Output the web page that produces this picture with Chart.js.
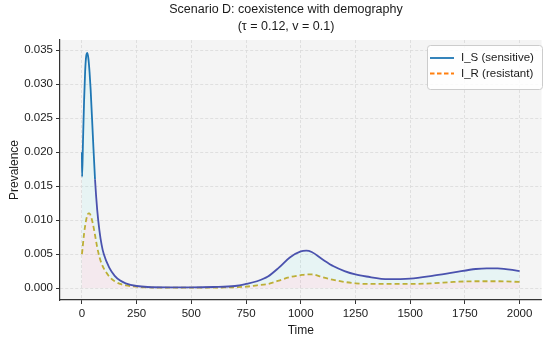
<!DOCTYPE html>
<html><head><meta charset="utf-8">
<script src="https://cdn.jsdelivr.net/npm/chart.js@4"></script>
<style>html,body{margin:0;padding:0;background:#fff}canvas{display:block}</style>
</head><body>
<canvas id="c" width="550" height="346"></canvas>
<script>
const time = [0,1,5,10,15,20,25,30,35,40,50,60,70,80,90,100,125,150,175,200,250,300,400,500,600,700,750,800,850,900,950,1000,1025,1050,1100,1150,1200,1250,1300,1400,1500,1600,1700,1800,1850,1900,2000];
const iS = [0.0200,0.0164,0.0215,0.0275,0.0320,0.0342,0.0346,0.0337,0.0318,0.0292,0.0225,0.0160,0.0115,0.0085,0.0064,0.0050,0.0030,0.0018,0.0011,0.0007,0.0003,0.00015,0.0001,0.0001,0.00015,0.0003,0.0006,0.0010,0.0017,0.0030,0.0045,0.0054,0.0055,0.0053,0.0042,0.0032,0.0025,0.0020,0.0017,0.0013,0.0014,0.0018,0.0023,0.0028,0.0029,0.0029,0.0025];
const iR = [0.0050,0.0052,0.0065,0.0080,0.0092,0.0101,0.0107,0.0110,0.0110,0.0107,0.0095,0.0078,0.0060,0.0046,0.0036,0.0029,0.0017,0.0010,0.0006,0.0004,0.0002,0.0001,0.00005,0.00005,0.00007,0.00012,0.0002,0.0004,0.0006,0.0011,0.0016,0.0019,0.0020,0.0020,0.0016,0.0012,0.0009,0.0007,0.0006,0.0006,0.0006,0.0007,0.0009,0.0010,0.0010,0.0010,0.0009];
const xTicks = [0,250,500,750,1000,1250,1500,1750,2000];
const yTicks = [0,0.005,0.010,0.015,0.020,0.025,0.030,0.035];
const seriesLabels = ['I_S (sensitive)','I_R (resistant)'];
const titleLines = ['Scenario D: coexistence with demography','(\u03c4 = 0.12, v = 0.1)'];

const FONT = '"Liberation Sans", Arial, sans-serif';

const bgPlugin = {
  id: 'bg',
  beforeDraw(chart) {
    const {ctx, chartArea: a} = chart;
    ctx.save();
    ctx.fillStyle = '#f4f4f4';
    ctx.fillRect(a.left, a.top, a.right - a.left, a.bottom - a.top);
    ctx.restore();
  },
  afterDraw(chart) {
    const ctx = chart.ctx;
    ctx.save();
    ctx.fillStyle = '#1a1a1a';
    ctx.font = '12.5px ' + FONT;
    ctx.textAlign = 'center';
    ctx.textBaseline = 'middle';
    ctx.fillText(titleLines[0], 286, 10);
    ctx.fillText(titleLines[1], 286, 27);
    const lx = 427, ly = 45, lw = 115, lh = 44;
    ctx.fillStyle = 'rgba(255,255,255,0.85)';
    ctx.strokeStyle = '#cccccc';
    ctx.lineWidth = 1;
    ctx.beginPath();
    ctx.roundRect(lx + 0.5, ly + 0.5, lw, lh, 3);
    ctx.fill(); ctx.stroke();
    const rows = [{y: 58, color: '#1f77b4', dash: []}, {y: 73.5, color: '#ff7f0e', dash: [4.5, 2.5]}];
    rows.forEach((r, i) => {
      ctx.strokeStyle = r.color;
      ctx.lineWidth = 1.8;
      ctx.setLineDash(r.dash);
      ctx.beginPath(); ctx.moveTo(430, r.y); ctx.lineTo(454, r.y); ctx.stroke();
      ctx.setLineDash([]);
      ctx.fillStyle = '#1a1a1a';
      ctx.font = '11.5px ' + FONT;
      ctx.textAlign = 'left';
      ctx.fillText(seriesLabels[i], 461, r.y);
    });
    ctx.restore();
  }
};

const ptsS = time.map((t, i) => ({x: t, y: iS[i]}));
const ptsR = time.map((t, i) => ({x: t, y: iR[i]}));

new Chart(document.getElementById('c'), {
  type: 'line',
  data: {
    datasets: [
      {label: seriesLabels[0], data: ptsS, borderColor: '#1f77b4', borderWidth: 1.8,
       segment: {borderColor: c => c.p0.parsed.x >= 55 ? '#4a52ae' : '#1f77b4'},
       pointRadius: 0, cubicInterpolationMode: 'monotone', fill: '+1', backgroundColor: 'rgba(0,255,255,0.05)'},
      {label: seriesLabels[1], data: ptsR, borderColor: '#c2ad32', borderWidth: 1.8, borderDash: [5, 3],
       pointRadius: 0, cubicInterpolationMode: 'monotone', fill: 'origin', backgroundColor: 'rgba(255,0,110,0.045)'}
    ]
  },
  options: {
    responsive: false, animation: false, devicePixelRatio: 1,
    layout: {padding: {top: 40, right: 8.5, left: 0, bottom: 0}},
    plugins: {legend: {display: false}, title: {display: false}, tooltip: {enabled: false}, filler: {propagate: false}},
    scales: {
      x: {
        type: 'linear', min: -100, max: 2100,
        afterBuildTicks: s => { s.ticks = xTicks.map(v => ({value: v})); },
        afterFit: s => { s.height = 46; },
        ticks: {font: {family: FONT, size: 11.5}, color: '#1a1a1a', padding: 3, maxRotation: 0,
                callback: v => String(v)},
        grid: {color: '#d9d9d9', lineWidth: 0.8, tickLength: 4, tickColor: '#333', tickWidth: 1},
        border: {display: true, color: '#333', width: 1.2, dash: [3, 2]},
        title: {display: true, text: 'Time', font: {family: FONT, size: 12}, color: '#1a1a1a', padding: {top: 0, bottom: 8}}
      },
      y: {
        type: 'linear', min: -0.00176, max: 0.0365,
        afterBuildTicks: s => { s.ticks = yTicks.map(v => ({value: v})); },
        afterFit: s => { s.width = 60; },
        ticks: {font: {family: FONT, size: 11.5}, color: '#1a1a1a', padding: 3,
                callback: v => v.toFixed(3)},
        grid: {color: '#d9d9d9', lineWidth: 0.8, tickLength: 4, tickColor: '#333', tickWidth: 1},
        border: {display: true, color: '#333', width: 1.2, dash: [3, 2]},
        title: {display: true, text: 'Prevalence', font: {family: FONT, size: 12}, color: '#1a1a1a', padding: {top: 7, bottom: 0}}
      }
    }
  },
  plugins: [bgPlugin]
});
</script>
</body></html>
